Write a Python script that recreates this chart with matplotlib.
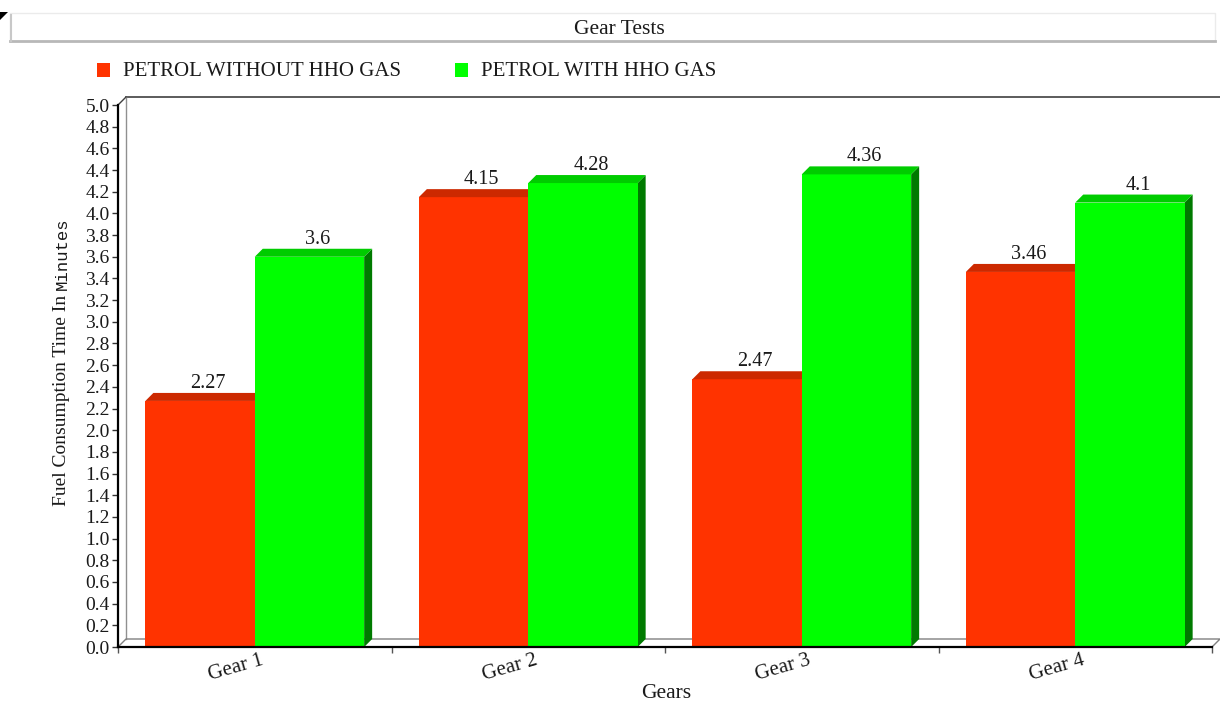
import matplotlib
matplotlib.use("Agg")
import matplotlib.pyplot as plt
from matplotlib.patches import Polygon, Rectangle
from matplotlib.lines import Line2D
import matplotlib.transforms as mtrans
import numpy as np

# ---------------- data ----------------
categories = ["Gear 1", "Gear 2", "Gear 3", "Gear 4"]
series_names = ["PETROL WITHOUT HHO GAS", "PETROL WITH HHO GAS"]
without_hho = [2.27, 4.15, 2.47, 3.46]
with_hho = [3.6, 4.28, 4.36, 4.1]
value_labels_without = ["2.27", "4.15", "2.47", "3.46"]
value_labels_with = ["3.6", "4.28", "4.36", "4.1"]
y_ticks = [round(0.2 * i, 1) for i in range(26)]

title = "Gear Tests"
x_label = "Gears"
y_label_main = "Fuel Consumption Time In "
y_label_tail = "Minutes"

# ---------------- style ----------------
SERIF = ["Liberation Serif", "DejaVu Serif"]
MONO = ["Liberation Mono", "DejaVu Sans Mono"]
front_colors = ["#FF3300", "#00FF00"]
top_colors = ["#CC2900", "#00CC00"]
side_colors = ["#992000", "#007A00"]
TXT = "#1a1a1a"

W, H = 1220, 706
fig = plt.figure(figsize=(W / 100, H / 100), dpi=100)

# axes (front plane) in pixel geometry
ax_l, ax_r, ax_t, ax_b = 118, 1212, 105, 647
ax = fig.add_axes([ax_l / W, 1 - ax_b / H, (ax_r - ax_l) / W, (ax_b - ax_t) / H])
ax.set_xlim(0, len(categories))
ax.set_ylim(0, 5.0)
ax.patch.set_alpha(0)

# 3D depth in data units
DPX, DPY = 8, 8
dx = DPX / (ax_r - ax_l) * len(categories)
dy = DPY / (ax_b - ax_t) * 5.0

n = len(categories)
# back wall and floor outlines
wall_kw = dict(clip_on=False, zorder=1)
ax.add_line(Line2D([dx, n + dx], [5 + dy, 5 + dy], color="#404040", lw=1.2, **wall_kw))
ax.add_line(Line2D([dx, dx], [dy, 5 + dy], color="#909090", lw=1.0, **wall_kw))
ax.add_line(Line2D([0, dx], [5, 5 + dy], color="#404040", lw=1.0, **wall_kw))
ax.add_line(Line2D([0, dx, n + dx, n], [0, dy, dy, 0], color="#808080", lw=1.0, **wall_kw))

# bars
bw = 0.4
centers = np.arange(n) + 0.5
for s, (vals, labs) in enumerate([(without_hho, value_labels_without), (with_hho, value_labels_with)]):
    for i, (v, lab) in enumerate(zip(vals, labs)):
        x0 = centers[i] - bw + s * bw
        x1 = x0 + bw
        z = 3 + s
        ax.add_patch(Polygon([[x1, 0], [x1 + dx, dy], [x1 + dx, v + dy], [x1, v]],
                             closed=True, facecolor=side_colors[s], edgecolor="none",
                             zorder=z, clip_on=False))
        ax.add_patch(Rectangle((x0, 0), bw, v, facecolor=front_colors[s],
                               edgecolor="none", zorder=z, clip_on=False))
        ax.add_patch(Polygon([[x0, v], [x1, v], [x1 + dx, v + dy], [x0 + dx, v + dy]],
                             closed=True, facecolor=top_colors[s], edgecolor="none",
                             zorder=z, clip_on=False))
        ax.annotate(lab, xy=((x0 + x1) / 2 + dx, v + dy), xytext=(0, 0),
                    textcoords="offset points", ha="center", va="bottom",
                    fontsize=14.5, family=SERIF, color=TXT, zorder=6)

# spines
for side in ["top", "right"]:
    ax.spines[side].set_visible(False)
for side in ["left", "bottom"]:
    ax.spines[side].set_color("black")
    ax.spines[side].set_linewidth(1.6)
    ax.spines[side].set_zorder(7)

# y ticks
ax.set_yticks(y_ticks)
ax.set_yticklabels([f"{t:.1f}" for t in y_ticks], family=SERIF, fontsize=14, color=TXT)
ax.tick_params(axis="y", direction="out", length=4, width=1, pad=2, color="#333333")

# x ticks: minor at category boundaries
ax.set_xticks(np.arange(n + 1), minor=True)
ax.set_xticks([])
ax.tick_params(axis="x", which="minor", direction="out", length=4, width=1, color="#555555")

off = mtrans.ScaledTranslation(6 / 100, -4 / 100, fig.dpi_scale_trans)
for c, lab in zip(centers, categories):
    ax.text(c, 0, lab, transform=ax.transData + off, rotation=16,
            rotation_mode="anchor", ha="right", va="top",
            fontsize=15, family=SERIF, color=TXT)

# x label
fig.text(666 / W, 1 - 694 / H, x_label, ha="center", va="center",
         fontsize=15.5, family=SERIF, color=TXT)

# y label (two fonts)
fig.canvas.draw()
renderer = fig.canvas.get_renderer()
ylab_x = 62 / W
t1 = fig.text(ylab_x, 1 - 506 / H, y_label_main, rotation=90, ha="center", va="bottom",
              fontsize=14, family=SERIF, color=TXT)
bb = t1.get_window_extent(renderer)
fig.text(ylab_x, bb.y1 / fig.bbox.height, y_label_tail, rotation=90, ha="center", va="bottom",
         fontsize=12.5, family=MONO, color=TXT)

# title box
fig.patches.append(Rectangle((10 / W, 1 - 41 / H), 1205 / W, 28 / H, transform=fig.transFigure,
                             facecolor="white", edgecolor="#EBEBEB", lw=1.0))
fig.lines.append(Line2D([10 / W, 1215 / W], [1 - 40.5 / H, 1 - 40.5 / H], transform=fig.transFigure,
                        color="#B8B8B8", lw=2.0))
fig.lines.append(Line2D([10.5 / W, 10.5 / W], [1 - 41 / H, 1 - 15 / H], transform=fig.transFigure,
                        color="#C8C8C8", lw=1.5))
fig.patches.append(Polygon([[0, 1 - 12 / H], [8 / W, 1 - 12 / H], [0, 1 - 20 / H]],
                           closed=True, transform=fig.transFigure, facecolor="black",
                           edgecolor="none"))
fig.text(619 / W, 1 - 29 / H, title, ha="center", va="center",
         fontsize=15.5, family=SERIF, color=TXT)

# legend (manual)
leg_y = 70
leg_items = [(97, 123), (455, 481)]
for (sq_x, tx_x), name, col in zip(leg_items, series_names, front_colors):
    fig.patches.append(Rectangle((sq_x / W, 1 - (leg_y + 7) / H), 13 / W, 14 / H,
                                 transform=fig.transFigure, facecolor=col, edgecolor="none"))
    fig.text(tx_x / W, 1 - (leg_y + 2) / H, name, ha="left", va="center",
             fontsize=15, family=SERIF, color=TXT)

fig.savefig("out.png", dpi=100)
